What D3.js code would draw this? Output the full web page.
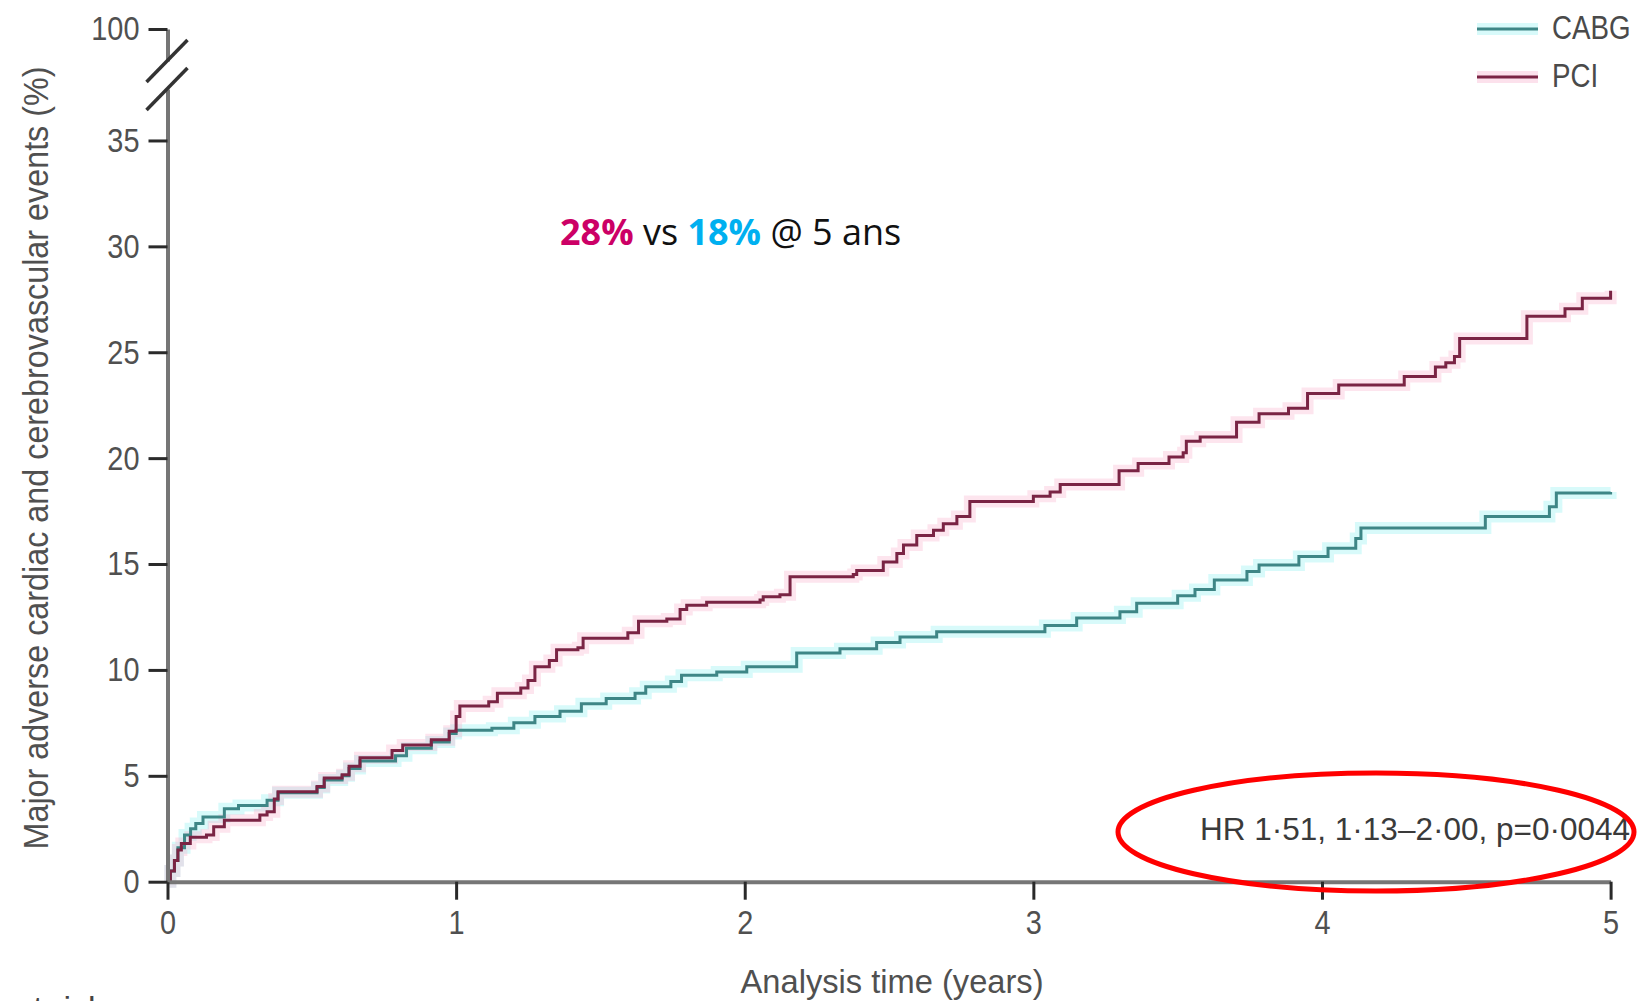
<!DOCTYPE html>
<html>
<head>
<meta charset="utf-8">
<script src="https://cdn.jsdelivr.net/npm/d3@7"></script>
<style>
  html, body { margin: 0; padding: 0; background: #fff; }
  svg { display: block; }
</style>
</head>
<body>
<svg id="chart" width="1642" height="1001"></svg>
<script>
// ---------------- DATA ----------------
const years = [0, 1, 2, 3, 4, 5];
const yTicks = [0, 5, 10, 15, 20, 25, 30, 35];
const yTopTicks = [100];
const seriesNames = ["CABG", "PCI"];

const pciTime = [0, 0.01, 0.024, 0.036, 0.048, 0.079, 0.135, 0.16, 0.197, 0.32, 0.345, 0.37, 0.383,
  0.518, 0.543, 0.605, 0.629, 0.667, 0.778, 0.815, 0.914, 0.976, 1.0, 1.013, 1.113, 1.143, 1.224,
  1.249, 1.273, 1.323, 1.348, 1.422, 1.44, 1.595, 1.632, 1.73, 1.776, 1.799, 1.868, 2.053, 2.064,
  2.122, 2.157, 2.376, 2.388, 2.48, 2.527, 2.55, 2.596, 2.654, 2.688, 2.735, 2.78, 3.0, 3.058,
  3.093, 3.297, 3.363, 3.47, 3.519, 3.53, 3.578, 3.704, 3.782, 3.884, 3.95, 4.058, 4.285, 4.393,
  4.429, 4.459, 4.477, 4.71, 4.842, 4.902, 5.0];
const pciRisk = [0, 0.5, 1.0, 1.5, 1.8, 2.1, 2.2, 2.6, 2.9, 3.15, 3.3, 3.9, 4.25,
  4.5, 4.9, 5.05, 5.45, 5.85, 6.2, 6.45, 6.7, 7.1, 7.8, 8.3, 8.5, 8.9, 9.15,
  9.5, 10.15, 10.45, 10.95, 11.05, 11.5, 11.75, 12.3, 12.4, 12.85, 13.05, 13.2, 13.3, 13.45,
  13.55, 14.4, 14.5, 14.7, 15.1, 15.5, 15.9, 16.35, 16.6, 16.9, 17.25, 17.95, 18.2, 18.4,
  18.75, 19.4, 19.75, 20.05, 20.25, 20.8, 21.0, 21.7, 22.1, 22.35, 23.05, 23.45, 23.85, 24.3,
  24.5, 24.8, 25.65, 26.7, 27.05, 27.55, 27.9];

const cabgTime = [0, 0.01, 0.024, 0.036, 0.059, 0.08, 0.098, 0.123, 0.197, 0.246, 0.345, 0.383,
  0.518, 0.543, 0.605, 0.629, 0.667, 0.79, 0.828, 0.914, 0.976, 1.0, 1.124, 1.2, 1.273, 1.36,
  1.434, 1.52, 1.62, 1.657, 1.744, 1.781, 1.903, 2.007, 2.18, 2.33, 2.457, 2.538, 2.665, 3.04,
  3.15, 3.3, 3.358, 3.5, 3.56, 3.627, 3.74, 3.782, 3.92, 4.021, 4.117, 4.135, 4.566, 4.788,
  4.812, 5.0];
const cabgRisk = [0, 0.5, 1.0, 1.6, 2.2, 2.5, 2.75, 3.05, 3.45, 3.6, 3.85, 4.2,
  4.45, 4.8, 5.0, 5.35, 5.7, 5.95, 6.3, 6.6, 7.0, 7.15, 7.25, 7.5, 7.8, 8.05,
  8.4, 8.65, 8.9, 9.2, 9.45, 9.75, 9.9, 10.15, 10.8, 11.0, 11.3, 11.55, 11.8, 12.1,
  12.45, 12.75, 13.15, 13.5, 13.8, 14.25, 14.65, 14.95, 15.35, 15.75, 16.2, 16.7, 17.25, 17.7,
  18.35, 18.4];

const annotationParts = [
  { text: "28%", bold: true, color: "#cc0066" },
  { text: " vs ", bold: false, color: "#111111" },
  { text: "18%", bold: true, color: "#00b0f0" },
  { text: " @ 5 ans", bold: false, color: "#111111" }
];
const hrText = "HR 1\u00b751, 1\u00b713\u20132\u00b700, p=0\u00b70044";
const xTitle = "Analysis time (years)";
const yTitle = "Major adverse cardiac and cerebrovascular events (%)";
const riskTitle = "Number at risk";

// ---------------- LAYOUT ----------------
const svg = d3.select("#chart");
svg.append("rect").attr("width", 1642).attr("height", 1001).attr("fill", "#fff");

const x = d3.scaleLinear().domain([0, 5]).range([167.5, 1610.6]);
const y = d3.scaleLinear().domain([0, 37.43]).range([881.7, 89]);
const yTop = d3.scaleLinear().domain([98.5, 100]).range([61, 29]);

const axisColor = "#767676";
const tickColor = "#2a2a2a";
const labelColor = "#505050";
const FONT = "'Liberation Sans', Arial, sans-serif";

function condense(sel, k) {
  sel.each(function () {
    const w = this.getComputedTextLength();
    d3.select(this).attr("textLength", w * k).attr("lengthAdjust", "spacingAndGlyphs");
  });
}

// ---------------- CURVES ----------------
const pciData = pciTime.map((t, i) => [t, pciRisk[i]]);
const cabgData = cabgTime.map((t, i) => [t, cabgRisk[i]]);
const line = d3.line().x(d => x(d[0])).y(d => y(d[1])).curve(d3.curveStepAfter);

const curves = svg.append("g");
curves.append("path").attr("d", line(cabgData)).attr("fill", "none")
  .attr("stroke", "#8ff0f0").attr("stroke-opacity", 0.35).attr("stroke-width", 12);
curves.append("path").attr("d", line(pciData)).attr("fill", "none")
  .attr("stroke", "#f7a8c8").attr("stroke-opacity", 0.3).attr("stroke-width", 12);
curves.append("path").attr("d", line(cabgData)).attr("fill", "none")
  .attr("stroke", "#3e8686").attr("stroke-width", 3);
curves.append("path").attr("d", line(pciData)).attr("fill", "none")
  .attr("stroke", "#7a2444").attr("stroke-width", 3);

// ---------------- AXES ----------------
function styleAxis(g) {
  g.select(".domain").attr("stroke", axisColor).attr("stroke-width", 4);
  g.selectAll(".tick line").attr("stroke", tickColor).attr("stroke-width", 3);
  g.selectAll(".tick text").attr("fill", labelColor).attr("font-family", FONT).attr("font-size", 34);
}

const xAxisG = svg.append("g").attr("transform", `translate(0,${y(0)})`)
  .call(d3.axisBottom(x).tickValues(years).tickSize(18).tickSizeOuter(0).tickPadding(10).tickFormat(d3.format("d")));
styleAxis(xAxisG);
xAxisG.selectAll(".tick text").call(condense, 0.85);

const yAxisG = svg.append("g").attr("transform", `translate(${x(0)},0)`)
  .call(d3.axisLeft(y).tickValues(yTicks).tickSize(19).tickSizeOuter(0).tickPadding(9).tickFormat(d3.format("d")));
styleAxis(yAxisG);
yAxisG.selectAll(".tick text").call(condense, 0.85);

const yTopG = svg.append("g").attr("transform", `translate(${x(0)},0)`)
  .call(d3.axisLeft(yTop).tickValues(yTopTicks).tickSize(19).tickSizeOuter(0).tickPadding(9).tickFormat(d3.format("d")));
styleAxis(yTopG);
yTopG.selectAll(".tick text").call(condense, 0.85);

// axis break marks
const breakG = svg.append("g").attr("stroke", "#333").attr("stroke-width", 3.5);
[yTop.range()[0], y.range()[1]].forEach(cy => {
  breakG.append("line")
    .attr("x1", x(0) - 21).attr("y1", cy + 21)
    .attr("x2", x(0) + 20).attr("y2", cy - 21);
});

// ---------------- TITLES ----------------
svg.append("text").text(xTitle)
  .attr("x", (x(0) + x(5)) / 2 + 3).attr("y", 993)
  .attr("text-anchor", "middle").attr("font-family", FONT).attr("font-size", 34)
  .attr("fill", labelColor).attr("textLength", 303).attr("lengthAdjust", "spacingAndGlyphs");

svg.append("text").text(yTitle)
  .attr("transform", "translate(48,458) rotate(-90)")
  .attr("text-anchor", "middle").attr("font-family", FONT).attr("font-size", 35)
  .attr("fill", labelColor).attr("textLength", 783).attr("lengthAdjust", "spacingAndGlyphs");

svg.append("text").text(riskTitle)
  .attr("x", 105).attr("y", 1020).attr("text-anchor", "end")
  .attr("font-family", FONT).attr("font-size", 34).attr("fill", "#444");

// ---------------- LEGEND ----------------
const legendColors = { CABG: "#3e8686", PCI: "#7a2444" };
const legendHalo = { CABG: "#8ff0f0", PCI: "#f7a8c8" };
const legend = svg.append("g");
seriesNames.forEach((name, i) => {
  const ly = 29 + i * 48;
  legend.append("line").attr("x1", 1477).attr("x2", 1538).attr("y1", ly).attr("y2", ly)
    .attr("stroke", legendHalo[name]).attr("stroke-opacity", 0.35).attr("stroke-width", 12);
  legend.append("line").attr("x1", 1477).attr("x2", 1538).attr("y1", ly).attr("y2", ly)
    .attr("stroke", legendColors[name]).attr("stroke-width", 3);
  legend.append("text").text(name)
    .attr("x", 1552).attr("y", ly + 10)
    .attr("font-family", FONT).attr("font-size", 33).attr("fill", "#4a4a4a")
    .call(condense, 0.84);
});

// ---------------- ANNOTATIONS ----------------
const ann = svg.append("text").attr("x", 560).attr("y", 245)
  .attr("font-family", "'Open Sans', 'Noto Sans', sans-serif").attr("font-size", 36);
annotationParts.forEach(p => {
  ann.append("tspan").text(p.text).attr("fill", p.color)
    .attr("font-weight", p.bold ? 700 : 400).style("white-space", "pre");
});
ann.attr("xml:space", "preserve");

svg.append("text").text(hrText)
  .attr("x", 1200).attr("y", 840)
  .attr("font-family", FONT).attr("font-size", 32).attr("fill", "#3a3a3a")
  .attr("textLength", 430).attr("lengthAdjust", "spacingAndGlyphs");

svg.append("ellipse")
  .attr("cx", 1376).attr("cy", 832).attr("rx", 258).attr("ry", 59)
  .attr("fill", "none").attr("stroke", "#ff0000").attr("stroke-width", 5);
</script>
</body>
</html>
